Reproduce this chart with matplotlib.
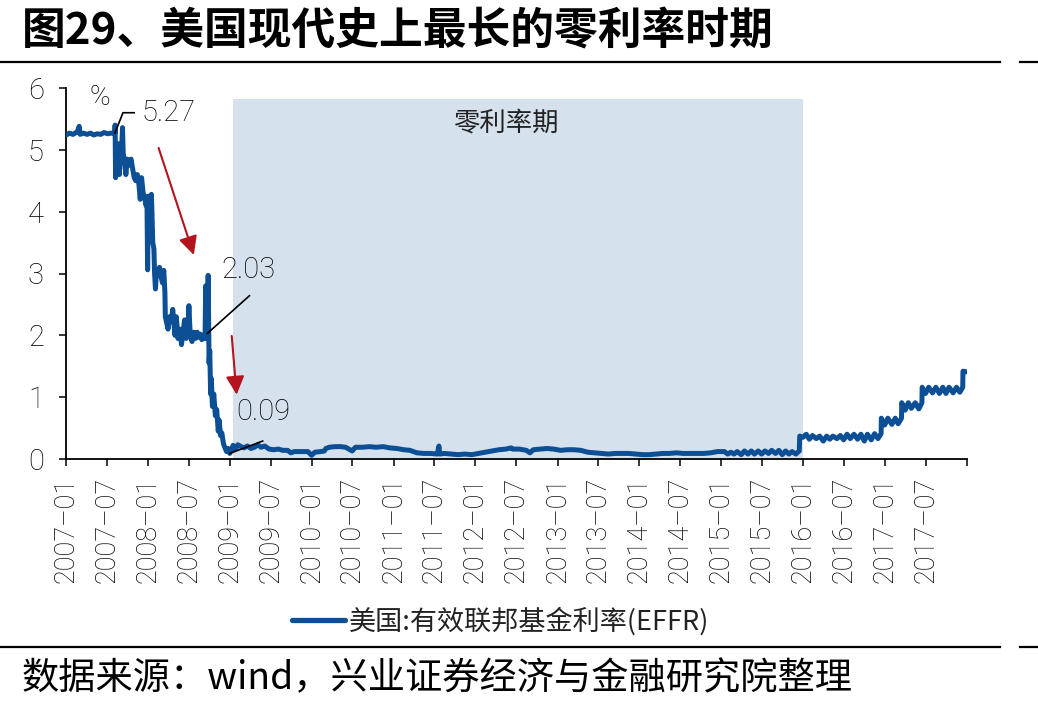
import matplotlib
matplotlib.use('Agg')
import matplotlib.pyplot as plt
import matplotlib.dates as mdates
from matplotlib.lines import Line2D
import pandas as pd

# ---------------- data ----------------
title = "图29、美国现代史上最长的零利率时期"
source = "数据来源：wind，兴业证券经济与金融研究院整理"
series_name = "美国:有效联邦基金利率(EFFR)"
zero_label = "零利率期"
unit = "%"

dates = [
    "2007-01-02", "2007-01-16", "2007-02-01", "2007-02-20", "2007-03-01", "2007-03-05", "2007-03-20",
    "2007-04-05", "2007-04-20", "2007-05-05", "2007-05-20", "2007-06-05", "2007-06-20", "2007-07-05",
    "2007-07-20", "2007-08-03", "2007-08-07", "2007-08-08", "2007-08-10", "2007-08-13", "2007-08-17",
    "2007-08-22", "2007-08-27", "2007-08-31", "2007-09-05", "2007-09-10", "2007-09-13", "2007-09-19",
    "2007-09-25", "2007-10-01", "2007-10-10", "2007-10-18", "2007-10-25", "2007-11-01", "2007-11-08",
    "2007-11-15", "2007-11-22", "2007-11-28", "2007-12-04", "2007-12-11", "2007-12-17", "2007-12-24",
    "2007-12-28", "2007-12-31", "2008-01-03", "2008-01-10", "2008-01-17", "2008-01-23", "2008-01-28",
    "2008-01-31", "2008-02-04", "2008-02-08", "2008-02-15", "2008-02-22", "2008-02-29", "2008-03-06",
    "2008-03-12", "2008-03-17", "2008-03-19", "2008-03-25", "2008-03-31", "2008-04-07", "2008-04-14",
    "2008-04-21", "2008-04-25", "2008-05-01", "2008-05-07", "2008-05-14", "2008-05-22", "2008-05-30",
    "2008-06-06", "2008-06-13", "2008-06-20", "2008-06-27", "2008-07-02", "2008-07-08", "2008-07-16",
    "2008-07-24", "2008-08-01", "2008-08-08", "2008-08-15", "2008-08-22", "2008-08-29", "2008-09-05",
    "2008-09-12", "2008-09-15", "2008-09-17", "2008-09-22", "2008-09-26", "2008-09-30", "2008-10-03",
    "2008-10-07", "2008-10-10", "2008-10-15", "2008-10-21", "2008-10-28", "2008-11-03", "2008-11-10",
    "2008-11-14", "2008-11-20", "2008-11-26", "2008-12-03", "2008-12-10", "2008-12-17", "2008-12-24",
    "2008-12-31",
    "2009-01-08", "2009-01-15", "2009-01-26", "2009-02-05", "2009-02-20", "2009-03-05", "2009-03-20",
    "2009-04-05", "2009-04-20", "2009-05-05", "2009-05-20", "2009-06-05", "2009-06-25", "2009-07-15",
    "2009-08-05", "2009-08-25", "2009-09-15", "2009-09-30", "2009-10-15", "2009-11-05", "2009-11-25",
    "2009-12-15", "2009-12-31", "2010-01-15", "2010-02-10", "2010-02-26", "2010-03-05", "2010-03-20",
    "2010-04-15", "2010-05-10", "2010-06-01", "2010-06-30", "2010-07-15", "2010-08-15", "2010-09-15",
    "2010-10-15", "2010-11-15", "2010-12-15", "2011-01-15", "2011-02-15", "2011-03-15", "2011-04-15",
    "2011-05-15", "2011-06-15", "2011-07-15", "2011-07-22", "2011-07-26", "2011-08-15", "2011-09-15",
    "2011-10-15", "2011-11-15", "2011-12-15", "2012-01-15", "2012-02-15", "2012-03-15", "2012-04-15",
    "2012-05-15", "2012-06-08", "2012-06-15", "2012-07-15", "2012-08-15", "2012-08-31", "2012-09-15",
    "2012-10-15", "2012-11-15", "2012-12-15", "2013-01-15", "2013-02-15", "2013-03-15", "2013-04-15",
    "2013-05-15", "2013-06-15", "2013-07-15", "2013-08-15", "2013-09-15", "2013-10-15", "2013-11-15",
    "2013-12-15", "2014-01-15", "2014-02-15", "2014-03-15", "2014-04-15", "2014-05-15", "2014-06-15",
    "2014-07-15", "2014-08-15", "2014-09-15", "2014-10-15", "2014-11-15", "2014-12-15",
    "2015-01-15", "2015-01-30", "2015-02-13", "2015-02-27", "2015-03-13", "2015-03-31", "2015-04-15",
    "2015-04-30", "2015-05-15", "2015-05-29", "2015-06-15", "2015-06-30", "2015-07-15", "2015-07-31",
    "2015-08-14", "2015-08-31", "2015-09-15", "2015-09-30", "2015-10-15", "2015-10-30", "2015-11-13",
    "2015-11-30", "2015-12-15", "2015-12-17", "2015-12-31",
    "2016-01-15", "2016-01-29", "2016-02-12", "2016-02-29", "2016-03-15", "2016-03-31", "2016-04-15",
    "2016-04-29", "2016-05-13", "2016-05-31", "2016-06-15", "2016-06-30", "2016-07-15", "2016-07-29",
    "2016-08-15", "2016-08-31", "2016-09-15", "2016-09-30", "2016-10-14", "2016-10-31", "2016-11-15",
    "2016-11-30", "2016-12-14", "2016-12-15", "2016-12-30",
    "2017-01-13", "2017-01-31", "2017-02-15", "2017-02-28", "2017-03-15", "2017-03-16", "2017-03-31",
    "2017-04-14", "2017-04-28", "2017-05-15", "2017-05-31", "2017-06-14", "2017-06-15", "2017-06-30",
    "2017-07-14", "2017-07-31", "2017-08-15", "2017-08-31", "2017-09-15", "2017-09-29", "2017-10-13",
    "2017-10-31", "2017-11-15", "2017-11-30", "2017-12-13", "2017-12-14", "2017-12-29",
]

effr = [
    5.24, 5.27, 5.25, 5.29, 5.38, 5.25, 5.27,
    5.25, 5.27, 5.24, 5.26, 5.25, 5.28, 5.26,
    5.27, 5.27, 5.27, 5.40, 4.55, 5.05, 4.85,
    5.10, 4.60, 5.00, 4.90, 5.36, 4.95, 4.80,
    4.60, 4.85, 4.75, 4.85, 4.70, 4.55, 4.50,
    4.60, 4.45, 4.20, 4.55, 4.30, 4.25, 4.10,
    4.20, 3.06, 4.25, 4.20, 4.28, 3.50, 3.40,
    3.00, 2.75, 3.00, 2.98, 3.10, 2.95, 2.85,
    3.05, 2.70, 2.30, 2.20, 2.10, 2.30, 2.22,
    2.42, 2.25, 2.00, 2.30, 1.95, 2.10, 1.85,
    2.05, 2.25, 1.95, 2.00, 2.48, 2.00, 1.90,
    2.05, 1.95, 2.05, 1.97, 2.02, 1.93, 2.00,
    1.95, 2.80, 1.95, 2.03, 2.97, 1.55, 1.75,
    1.05, 1.30, 0.85, 1.05, 0.70, 0.80, 0.45,
    0.63, 0.38, 0.42, 0.25, 0.18, 0.12, 0.17,
    0.09,
    0.15, 0.22, 0.16, 0.23, 0.20, 0.18, 0.21,
    0.17, 0.19, 0.23, 0.19, 0.21, 0.16, 0.15,
    0.16, 0.14, 0.14, 0.10, 0.12, 0.12, 0.12,
    0.12, 0.06, 0.11, 0.12, 0.13, 0.17, 0.19,
    0.20, 0.20, 0.19, 0.13, 0.19, 0.19, 0.20,
    0.19, 0.20, 0.18, 0.17, 0.15, 0.14, 0.10,
    0.09, 0.09, 0.08, 0.21, 0.08, 0.09, 0.08,
    0.07, 0.08, 0.07, 0.09, 0.11, 0.13, 0.15,
    0.16, 0.18, 0.16, 0.16, 0.14, 0.10, 0.15,
    0.16, 0.17, 0.16, 0.14, 0.15, 0.15, 0.14,
    0.11, 0.10, 0.09, 0.08, 0.09, 0.09, 0.09,
    0.08, 0.07, 0.07, 0.08, 0.09, 0.09, 0.10,
    0.09, 0.09, 0.09, 0.09, 0.10, 0.12,
    0.12, 0.08, 0.11, 0.08, 0.12, 0.07, 0.13,
    0.08, 0.13, 0.08, 0.13, 0.08, 0.13, 0.09,
    0.14, 0.09, 0.14, 0.07, 0.13, 0.08, 0.12,
    0.08, 0.13, 0.37, 0.35,
    0.40, 0.32, 0.38, 0.33, 0.37, 0.29, 0.37,
    0.32, 0.37, 0.33, 0.38, 0.31, 0.40, 0.33,
    0.40, 0.32, 0.40, 0.29, 0.40, 0.31, 0.41,
    0.33, 0.41, 0.66, 0.55,
    0.66, 0.56, 0.66, 0.57, 0.66, 0.91, 0.79,
    0.91, 0.82, 0.91, 0.81, 0.91, 1.16, 1.06,
    1.16, 1.07, 1.16, 1.06, 1.16, 1.06, 1.16,
    1.07, 1.16, 1.08, 1.16, 1.42, 1.41,
]

zero_start, zero_end = "2009-01-15", "2016-01-01"
x_start, x_end = "2007-01-01", "2018-01-01"
y_ticks = [0, 1, 2, 3, 4, 5, 6]

# annotations (point, knee/end, text anchor)
ann_527 = dict(point=("2007-08-07", 5.27), knee=("2007-09-12", 5.60), end=("2007-11-01", 5.60),
               text=("2007-12-05", 5.60), label="5.27")
ann_203 = dict(point=("2008-09-22", 2.03), end=("2009-03-29", 2.64), text=("2008-11-26", 3.06), label="2.03")
ann_009 = dict(point=("2008-12-31", 0.09), end=("2009-05-27", 0.29), text=("2009-01-27", 0.76), label="0.09")
arrow1 = (("2008-02-18", 5.03), ("2008-07-24", 3.30))
arrow2 = (("2009-01-09", 1.99), ("2009-01-31", 1.04))

# ---------------- style ----------------
CJK = ['Noto Sans CJK SC', 'DejaVu Sans']
LAT = ['Roboto', 'Liberation Sans', 'DejaVu Sans']
plt.rcParams['font.family'] = LAT
plt.rcParams['font.weight'] = 'light'
BLUE = '#0c4f94'
SHADE = '#d6e1ee'
RED = '#b3141e'
TXT = '#000000'

T = pd.Timestamp

fig = plt.figure(figsize=(10.38, 7.12), dpi=100)
ax = fig.add_axes([66 / 1038, 1 - 459 / 712, (967 - 66) / 1038, (459 - 88) / 712])

x = pd.to_datetime(dates)
ax.axvspan(T(zero_start), T(zero_end), ymin=0, ymax=5.83 / 6, color=SHADE, lw=0, zorder=0)
ax.plot(x, effr, color=BLUE, lw=3.6, solid_joinstyle='round', solid_capstyle='round',
        label=series_name, zorder=3)

ax.set_xlim(T(x_start), T(x_end))
ax.set_ylim(0, 6)

ticks = pd.date_range(x_start, x_end, freq='6MS')
ax.set_xticks(ticks)
ax.set_xticklabels([f"{d.year}\u2013{d.month:02d}" if d < T(x_end) else "" for d in ticks],
                   rotation=90, fontsize=19.5, color=TXT)
ax.set_yticks(y_ticks)
ax.set_yticklabels([str(v) for v in y_ticks], fontsize=21, color=TXT)
ax.tick_params(axis='x', direction='out', length=5, width=1.1, pad=8)
ax.tick_params(axis='y', direction='out', length=5, width=1.1, pad=11)
for s in ['top', 'right']:
    ax.spines[s].set_visible(False)
for s in ['left', 'bottom']:
    ax.spines[s].set_linewidth(1.3)
    ax.spines[s].set_color('black')

# annotations
ax.text(T("2007-06-01"), 5.84, unit, fontsize=20, color=TXT, ha='center', va='center')
ax.text(T("2012-05-14"), 5.44, zero_label, fontsize=19, color='#222222', ha='center', va='center',
        family=CJK, fontweight='normal')

def P(p):
    return (T(p[0]), p[1])

pts = [P(ann_527['point']), P(ann_527['knee']), P(ann_527['end'])]
ax.plot([p[0] for p in pts], [p[1] for p in pts], color='black', lw=1.2, zorder=4)
ax.text(*P(ann_527['text']), ann_527['label'], fontsize=21, color=TXT, ha='left', va='center')
for a in (ann_203, ann_009):
    p0, p1 = P(a['point']), P(a['end'])
    ax.plot([p0[0], p1[0]], [p0[1], p1[1]], color='black', lw=1.2, zorder=4)
    ax.text(*P(a['text']), a['label'], fontsize=21, color=TXT, ha='left', va='center')

for (s, e) in (arrow1, arrow2):
    ax.annotate("", xy=P(e), xytext=P(s),
                arrowprops=dict(arrowstyle='-|>', color=RED, lw=1.5, mutation_scale=28,
                                shrinkA=0, shrinkB=0))

# legend
leg = ax.legend(loc='center', bbox_to_anchor=(501 / 1038, 1 - 621 / 712),
                bbox_transform=fig.transFigure, frameon=False,
                prop={'family': CJK, 'size': 19.5, 'weight': 'normal'},
                handlelength=1.95, handletextpad=0.15)
for t in leg.get_texts():
    t.set_color('#222222')
for l in leg.get_lines():
    l.set_linewidth(3.8)

# title, source, rules
fig.text(22 / 1038, 1 - 30 / 712, title, fontsize=31.5, fontweight='bold', ha='left', va='center',
         family=CJK, color='black')
fig.text(22 / 1038, 1 - 679 / 712, source, fontsize=26.8, ha='left', va='center', family=CJK,
         color='black', fontweight='normal')
for yy in (62, 647):
    fig.add_artist(Line2D([0, 1000 / 1038], [1 - yy / 712] * 2, color='black', lw=1.6,
                          transform=fig.transFigure))
    fig.add_artist(Line2D([1020 / 1038, 1], [1 - yy / 712] * 2, color='black', lw=1.6,
                          transform=fig.transFigure))

fig.savefig('out.png', dpi=100)
